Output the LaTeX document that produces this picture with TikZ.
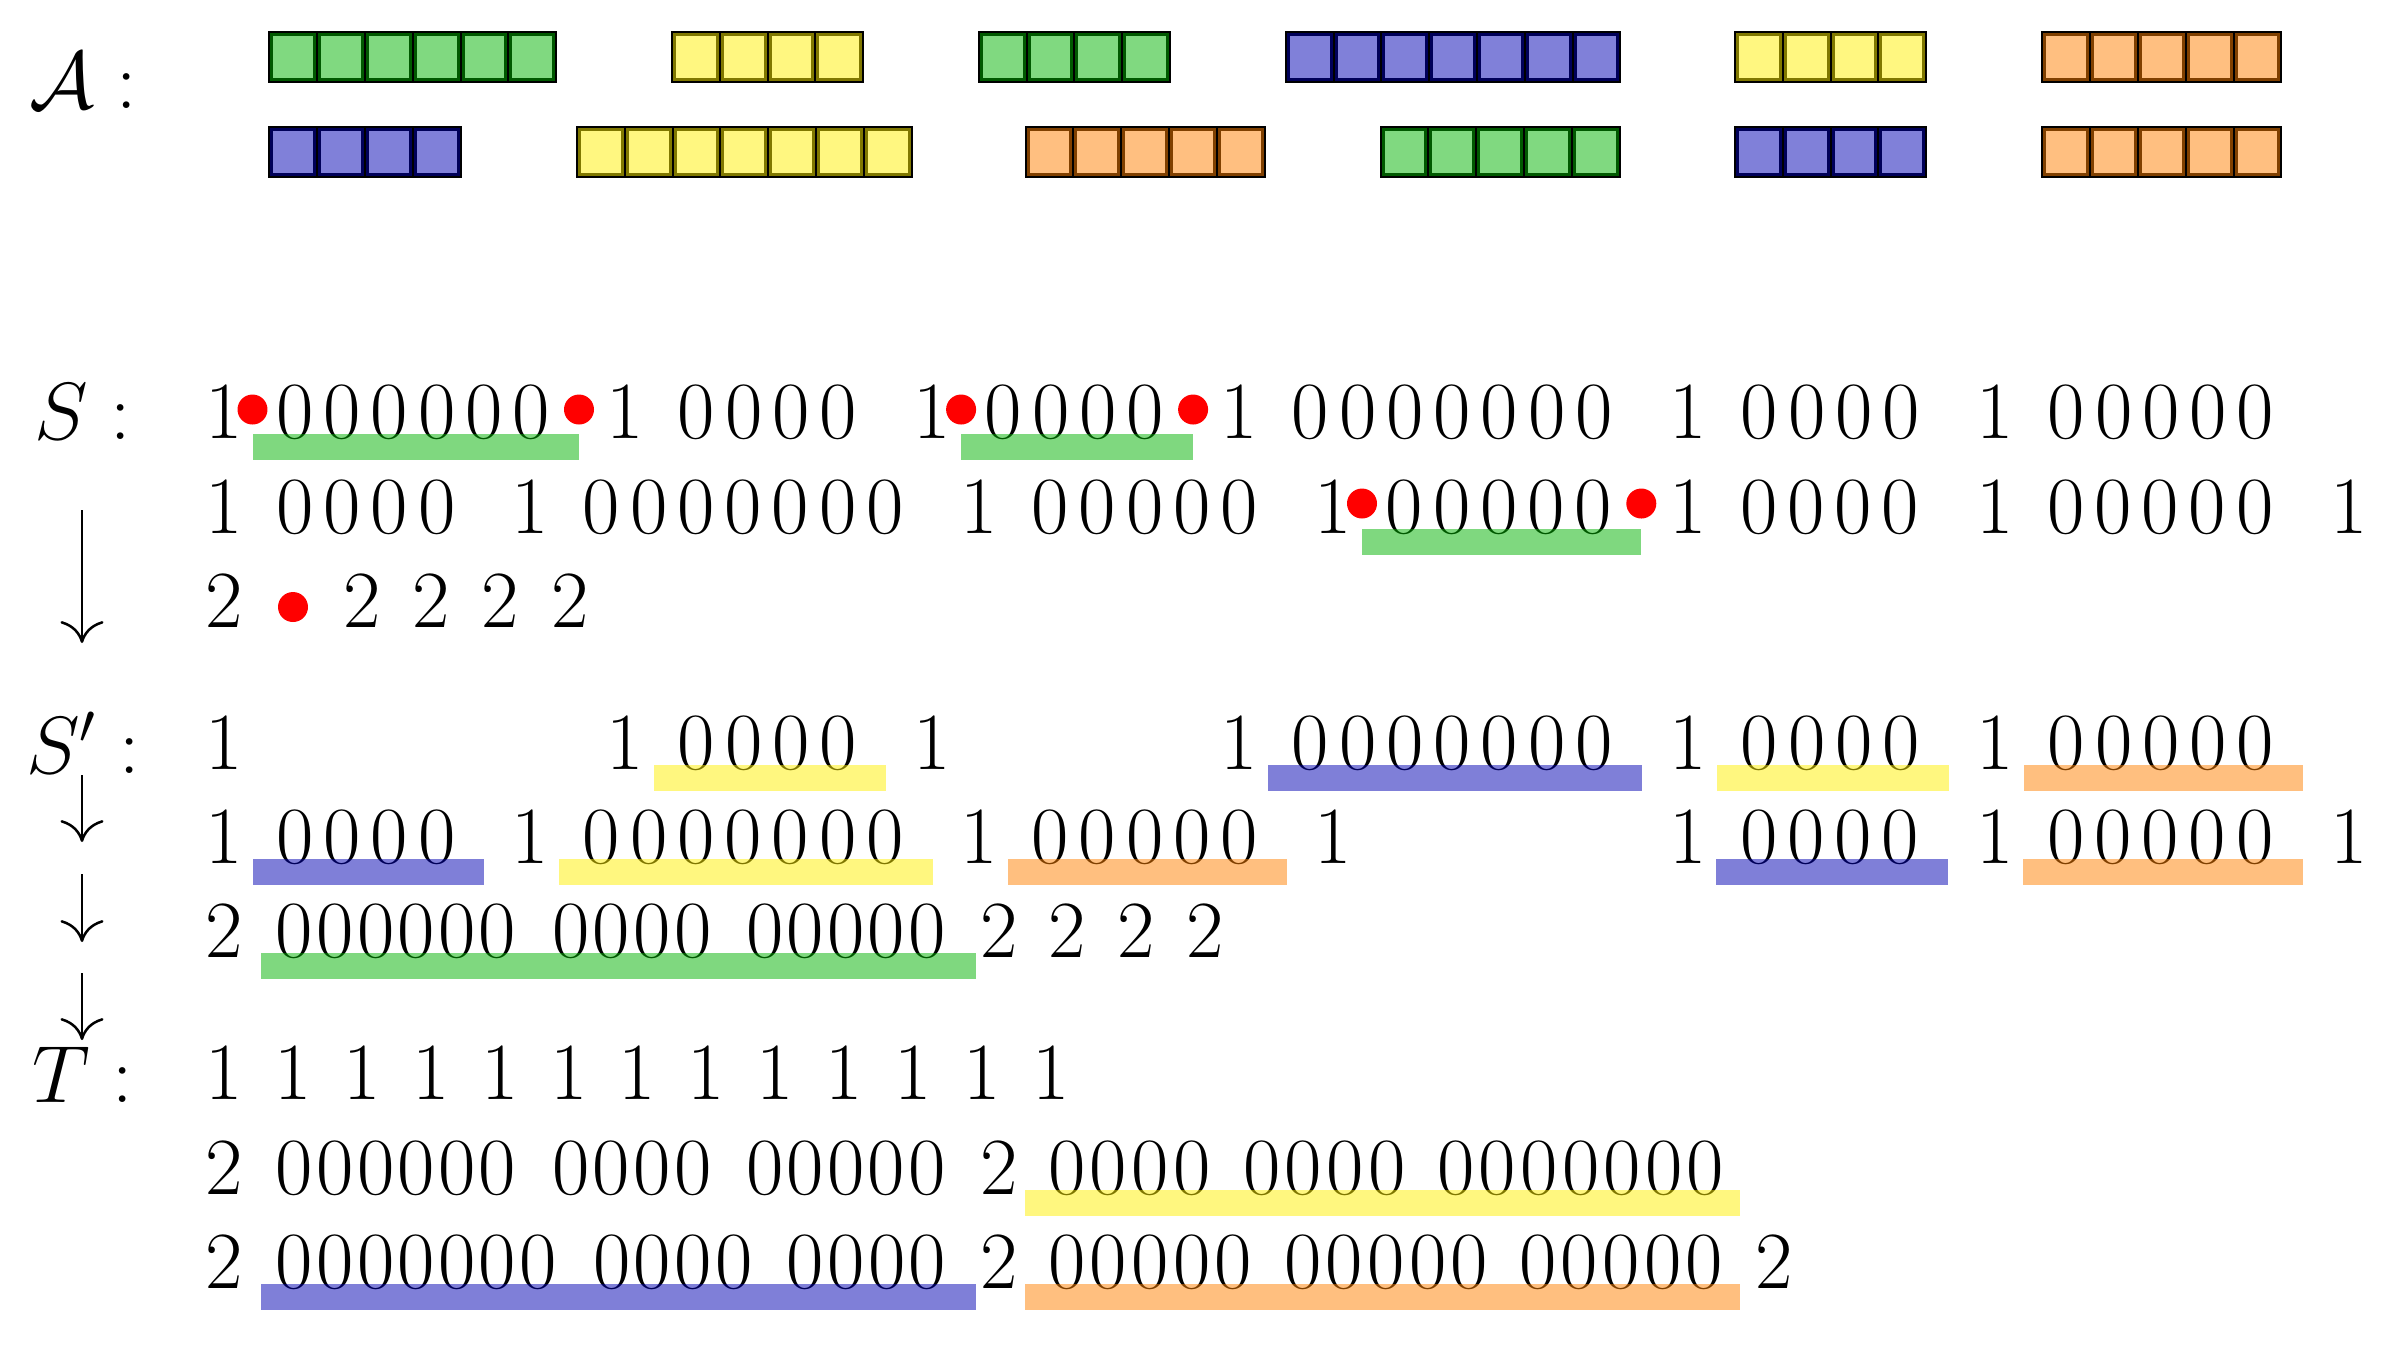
\documentclass[tikz,border=0pt]{standalone}
\usetikzlibrary{arrows.meta}
\definecolor{gL}{RGB}{128,217,128}\definecolor{gD}{RGB}{0,89,0}\definecolor{gB}{RGB}{0,178,0}
\definecolor{yL}{RGB}{255,247,128}\definecolor{yD}{RGB}{128,120,0}\definecolor{yB}{RGB}{255,239,0}
\definecolor{bL}{RGB}{128,128,217}\definecolor{bD}{RGB}{0,0,89}\definecolor{bB}{RGB}{0,0,178}
\definecolor{oL}{RGB}{255,191,128}\definecolor{oD}{RGB}{128,64,0}\definecolor{oB}{RGB}{255,128,0}
\tikzset{
  dg/.style={anchor=base, inner sep=0pt, font=\huge},
  lab/.style={anchor=base, inner sep=0pt, font=\huge},
  cellline/.style={draw=black, line width=0.51pt},
  arr/.style={line width=0.64pt, -{Computer Modern Rightarrow[length=5.6pt,width=11pt]}},
}
% zeros group: name, first x, count, spacing, baseline
\newcommand\zgrp[5]{\foreach \k in {1,...,#3}{\node[dg] (#1-\k) at ({#2+(\k-1)*#4},#5) {0};}}
% cells: x0, y0, n, light, dark
\newcommand\cellbox[5]{\foreach \k in {1,...,#3}{%
  \fill[#5] ({#1+(\k-1)*47.8},#2) rectangle ({#1+\k*47.8},#2+50);
  \fill[#4] ({#1+(\k-1)*47.8+4},#2+4) rectangle ({#1+\k*47.8-4},#2+46);
  \draw[cellline] ({#1+(\k-1)*47.8},#2) rectangle ({#1+\k*47.8},#2+50);}}
% highlight: colour, x from, x to, baseline
\newcommand\hlbar[4]{\fill[#1, fill opacity=0.5] (#2,#4-4.5) rectangle (#3,#4+21.5);}
\newcommand\rdot[2]{\fill[red] (#1,#2) circle[radius=3.83pt];}
\begin{document}
\begin{tikzpicture}[x=0.2554pt,y=-0.2554pt]
\useasboundingbox (0,0) rectangle (2390,1348);
% ---------- A boxes ----------
\cellbox{269.4}{32}{6}{gL}{gD}
\cellbox{672}{32}{4}{yL}{yD}
\cellbox{978.8}{32}{4}{gL}{gD}
\cellbox{1285.8}{32}{7}{bL}{bD}
\cellbox{1735}{32}{4}{yL}{yD}
\cellbox{2042.4}{32}{5}{oL}{oD}
\cellbox{269.4}{127}{4}{bL}{bD}
\cellbox{577}{127}{7}{yL}{yD}
\cellbox{1025.5}{127}{5}{oL}{oD}
\cellbox{1380.6}{127}{5}{gL}{gD}
\cellbox{1735}{127}{4}{bL}{bD}
\cellbox{2042.4}{127}{5}{oL}{oD}
% ---------- labels ----------
\node[lab] (lA) at (83,108) {$\mathcal{A}:$};
\node[lab] (lS) at (83,439) {$S:$};
\node[lab] (lSp) at (83,773) {$S':$};
\node[lab] (lT) at (83,1102) {$T:$};
% ---------- S row 1 ----------
\foreach \x [count=\i] in {224,625.5,932.6,1239.6,1688.4,1995.5}{\node[dg] (sa\i) at (\x,438.5) {1};}
\zgrp{sza}{295}{6}{47.23}{438.5}
\zgrp{szb}{696.5}{4}{47.23}{438.5}
\zgrp{szc}{1003.6}{4}{47.23}{438.5}
\zgrp{szd}{1310.6}{7}{47.23}{438.5}
\zgrp{sze}{1759.4}{4}{47.23}{438.5}
\zgrp{szf}{2066.5}{5}{47.23}{438.5}
% ---------- S row 2 ----------
\foreach \x [count=\i] in {224,530.5,979.2,1333.5,1687.8,1994.9,2349.2}{\node[dg] (sb\i) at (\x,533) {1};}
\zgrp{tza}{295}{4}{47.23}{533}
\zgrp{tzb}{601.5}{7}{47.23}{533}
\zgrp{tzc}{1050.2}{5}{47.23}{533}
\zgrp{tzd}{1404.5}{5}{47.23}{533}
\zgrp{tze}{1758.8}{4}{47.23}{533}
\zgrp{tzf}{2065.9}{5}{47.23}{533}
% ---------- S row 3 ----------
\foreach \x [count=\i] in {224,362,431,500.5,570}{\node[dg] (sc\i) at (\x,627) {2};}
% ---------- S' row 1 ----------
\foreach \x [count=\i] in {224,625.5,932.6,1239.6,1688.4,1995.5}{\node[dg] (pa\i) at (\x,769) {1};}
\zgrp{pza}{696.5}{4}{47.23}{769}
\zgrp{pzb}{1310.6}{7}{47.23}{769}
\zgrp{pzc}{1759.4}{4}{47.23}{769}
\zgrp{pzd}{2066.5}{5}{47.23}{769}
% ---------- S' row 2 ----------
\foreach \x [count=\i] in {224,530.5,979.2,1333.5,1687.8,1994.9,2349.2}{\node[dg] (pb\i) at (\x,863.5) {1};}
\zgrp{qza}{295}{4}{47.23}{863.5}
\zgrp{qzb}{601.5}{7}{47.23}{863.5}
\zgrp{qzc}{1050.2}{5}{47.23}{863.5}
\zgrp{qzd}{1758.8}{4}{47.23}{863.5}
\zgrp{qze}{2065.9}{5}{47.23}{863.5}
% ---------- S' row 3 ----------
\foreach \x [count=\i] in {224,998.7,1067.6,1136.5,1205.3}{\node[dg] (pc\i) at (\x,957.5) {2};}
\zgrp{rza}{294.6}{6}{40.6}{957.5}
\zgrp{rzb}{571}{4}{40.6}{957.5}
\zgrp{rzc}{764.8}{5}{40.6}{957.5}
% ---------- T row 1 ----------
\foreach \k in {0,...,12}{\node[dg] (ta\k) at ({224.2+\k*68.9},1099) {1};}
% ---------- T row 2 ----------
\foreach \x [count=\i] in {224,998.7}{\node[dg] (tb\i) at (\x,1194) {2};}
\zgrp{uza}{294.6}{6}{40.6}{1194}
\zgrp{uzb}{571}{4}{40.6}{1194}
\zgrp{uzc}{764.8}{5}{40.6}{1194}
\zgrp{uzd}{1067}{4}{41.6}{1194}
\zgrp{uze}{1262}{4}{41.6}{1194}
\zgrp{uzf}{1456}{7}{41.6}{1194}
% ---------- T row 3 ----------
\foreach \x [count=\i] in {224,998.7,1773.7}{\node[dg] (tc\i) at (\x,1288) {2};}
\zgrp{vza}{294.6}{7}{40.6}{1288}
\zgrp{vzb}{612}{4}{40.6}{1288}
\zgrp{vzc}{805.5}{4}{40.6}{1288}
\zgrp{vzd}{1067}{5}{41.6}{1288}
\zgrp{vze}{1303}{5}{41.6}{1288}
\zgrp{vzf}{1538}{5}{41.6}{1288}
% ---------- highlight bars ----------
\hlbar{gB}{252.5}{579}{438.5}
\hlbar{gB}{961.1}{1193.1}{438.5}
\hlbar{gB}{1362}{1641.3}{533}
\hlbar{yB}{654}{886}{769}
\hlbar{bB}{1268.1}{1641.9}{769}
\hlbar{yB}{1716.9}{1949}{769}
\hlbar{oB}{2024}{2302.9}{769}
\hlbar{bB}{252.5}{484}{863.5}
\hlbar{yB}{559}{932.7}{863.5}
\hlbar{oB}{1007.7}{1287}{863.5}
\hlbar{bB}{1716.3}{1948.4}{863.5}
\hlbar{oB}{2023.4}{2302.7}{863.5}
\hlbar{gB}{261}{975.7}{957.5}
\hlbar{yB}{1025}{1740}{1194}
\hlbar{bB}{261}{975.7}{1288}
\hlbar{oB}{1025}{1740}{1288}
% ---------- red dots ----------
\rdot{252.5}{409.5}\rdot{579}{409.5}\rdot{961.1}{409.5}\rdot{1193.1}{409.5}
\rdot{1362}{503.5}\rdot{1641.3}{503.5}
\rdot{293}{607}
% ---------- arrows ----------
\coordinate (a1s) at (82,510); \coordinate (a1e) at (82,643);
\coordinate (a2s) at (82,775); \coordinate (a2e) at (82,842);
\coordinate (a3s) at (82,874); \coordinate (a3e) at (82,942);
\coordinate (a4s) at (82,973); \coordinate (a4e) at (82,1040);
\draw[arr] (a1s) -- (a1e);
\draw[arr] (a2s) -- (a2e);
\draw[arr] (a3s) -- (a3e);
\draw[arr] (a4s) -- (a4e);
\end{tikzpicture}
\end{document}
